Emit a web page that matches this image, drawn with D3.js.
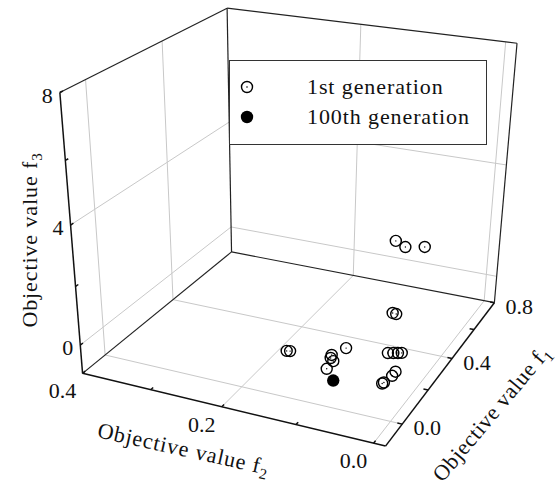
<!DOCTYPE html>
<html>
<head>
<meta charset="utf-8">
<script src="https://cdn.jsdelivr.net/npm/d3@7"></script>
<style>
  body { margin: 0; background: #fff; }
  svg text { font-family: "Liberation Serif", serif; fill: #111; }
</style>
</head>
<body>
<div id="chart"></div>
<script>
// --axis ranges and ticks--
const f1Range = [-0.12, 0.8];
const f2Range = [-0.015, 0.4];
const f3Range = [-1, 8];
const f1Ticks = [0, 0.2, 0.4, 0.6, 0.8];
const f2Ticks = [0, 0.1, 0.2, 0.3, 0.4];
const f3Ticks = [0, 2, 4, 6, 8];
const f1Labels = [0, 0.4, 0.8];
const f2Labels = [0, 0.2, 0.4];
const f3Labels = [0, 4, 8];

// --data: 1st generation--
const gen1F1 = [0.242, 0.215, 0.237, 0.177, 0.175, 0.014, 0.017, 0.044, 0.027, 0.014,
                0.096, 0.043, 0.070, 0.076, 0.081, 0.086, 0.106, 0.081, 0.038, 0.031];
const gen1F2 = [0.044, 0.027, 0.006, 0.033, 0.028, 0.141, 0.137, 0.087, 0.085, 0.079,
                0.078, 0.093, 0.019, 0.013, 0.008, 0.004, 0.014, 0.014, 0.017, 0.018];
const gen1F3 = [3.5, 3.5, 3.5, 1.5, 1.5, 0.5, 0.5, 0.5, 0.5, 0.5,
                0.5, 0.0, 0.8, 0.8, 0.8, 0.8, 0.0, 0.0, 0.0, 0.0];

// --data: 100th generation--
const gen100F1 = [0.006];
const gen100F2 = [0.077];
const gen100F3 = [-0.1];

const svg = d3.select("#chart").append("svg")
  .attr("width", 560)
  .attr("height", 487);

const s1 = d3.scaleLinear().domain(f1Range).range([0, 1]);
const s2 = d3.scaleLinear().domain(f2Range).range([0, 1]);
const s3 = d3.scaleLinear().domain(f3Range).range([0, 1]);

// where the box corners land on screen (normalised a,b,c -> px)
const anchors = [
  [0, 1, 0, 82, 373],
  [0, 0, 0, 386, 446],
  [1, 0, 0, 494, 303],
  [1, 1, 0, 232, 252],
  [0, 1, 1, 60, 93],
  [1, 1, 1, 227, 8],
  [1, 0, 1, 517, 43]
];

// perspective camera fitted to the anchors (DLT, least squares)
function solveCamera(pts) {
  const n = 11;
  const M = d3.range(n).map(() => new Array(n + 1).fill(0));
  pts.forEach(([X, Y, Z, u, v]) => {
    [[[X, Y, Z, 1, 0, 0, 0, 0, -u * X, -u * Y, -u * Z], u],
     [[0, 0, 0, 0, X, Y, Z, 1, -v * X, -v * Y, -v * Z], v]].forEach(([r, b]) => {
      for (let i = 0; i < n; i++) {
        for (let j = 0; j < n; j++) M[i][j] += r[i] * r[j];
        M[i][n] += r[i] * b;
      }
    });
  });
  for (let col = 0; col < n; col++) {
    let piv = col;
    for (let r = col + 1; r < n; r++) if (Math.abs(M[r][col]) > Math.abs(M[piv][col])) piv = r;
    [M[col], M[piv]] = [M[piv], M[col]];
    for (let r = 0; r < n; r++) {
      if (r === col) continue;
      const f = M[r][col] / M[col][col];
      for (let k = col; k <= n; k++) M[r][k] -= f * M[col][k];
    }
  }
  return M.map((row, i) => row[n] / row[i]);
}
const P = solveCamera(anchors);

function project(f1, f2, f3) {
  const a = s1(f1), b = s2(f2), c = s3(f3);
  const w = P[8] * a + P[9] * b + P[10] * c + 1;
  return [(P[0] * a + P[1] * b + P[2] * c + P[3]) / w,
          (P[4] * a + P[5] * b + P[6] * c + P[7]) / w];
}

const line = d3.line();
function seg(g, p, q) {
  g.append("path").attr("d", line([project(...p), project(...q)]));
}

const [x0, x1] = f1Range, [y0, y1] = f2Range, [z0, z1] = f3Range;

// --grid--
const grid = svg.append("g")
  .attr("fill", "none").attr("stroke", "#c8c8c8").attr("stroke-width", 1);
f1Labels.filter(v => v < x1).forEach(v => {
  seg(grid, [v, y0, z0], [v, y1, z0]);      // floor
  seg(grid, [v, y1, z0], [v, y1, z1]);      // left wall
});
f2Labels.filter(v => v < y1).forEach(v => {
  seg(grid, [x0, v, z0], [x1, v, z0]);      // floor
  seg(grid, [x1, v, z0], [x1, v, z1]);      // right wall
});
f3Labels.filter(v => v < z1).forEach(v => {
  seg(grid, [x0, y1, v], [x1, y1, v]);
  seg(grid, [x1, y1, v], [x1, y0, v]);
});

// --box edges--
const box = svg.append("g")
  .attr("fill", "none").attr("stroke", "#222").attr("stroke-width", 1.2);
seg(box, [x0, y1, z0], [x1, y1, z0]);
seg(box, [x1, y1, z0], [x1, y0, z0]);
seg(box, [x1, y1, z0], [x1, y1, z1]);
seg(box, [x1, y0, z0], [x1, y0, z1]);
seg(box, [x0, y1, z1], [x1, y1, z1]);
seg(box, [x1, y1, z1], [x1, y0, z1]);

// --axes--
const axes = svg.append("g")
  .attr("fill", "none").attr("stroke", "#111").attr("stroke-width", 1.5);
seg(axes, [x0, y1, z0], [x0, y0, z0]);
seg(axes, [x0, y0, z0], [x1, y0, z0]);
seg(axes, [x0, y1, z0], [x0, y1, z1]);

const tl1 = 0.015 * (y1 - y0), tl2 = 0.015 * (x1 - x0);
f1Ticks.forEach(v => seg(axes, [v, y0, z0], [v, y0 + tl1, z0]));
f2Ticks.forEach(v => seg(axes, [x0, v, z0], [x0 + tl2, v, z0]));
f3Ticks.forEach(v => seg(axes, [x0, y1, v], [x0 + tl2, y1, v]));

const fmt = d3.format(".1f");
const labels = svg.append("g").attr("font-size", 22);
f1Labels.forEach(v => {
  const [px, py] = project(v, y0, z0);
  labels.append("text").attr("x", px + 25).attr("y", py + 6)
    .attr("text-anchor", "middle").attr("dominant-baseline", "middle").text(fmt(v));
});
f2Labels.forEach(v => {
  const [px, py] = project(x0, v, z0);
  labels.append("text").attr("x", px - 20).attr("y", py + 20)
    .attr("text-anchor", "middle").attr("dominant-baseline", "middle").text(fmt(v));
});
f3Labels.forEach(v => {
  const [px, py] = project(x0, y1, v);
  labels.append("text").attr("x", px - 7).attr("y", py + 5)
    .attr("text-anchor", "end").attr("dominant-baseline", "middle").text(v);
});

// --axis titles--
function title(x, y, angle, sub, spacing) {
  const t = svg.append("text")
    .attr("transform", `translate(${x},${y}) rotate(${angle})`)
    .attr("text-anchor", "middle").attr("font-size", 22)
    .attr("letter-spacing", spacing);
  t.append("tspan").text("Objective value f");
  t.append("tspan").attr("font-size", 15).attr("dy", 5).text(sub);
}
title(37, 240, -90, "3", 0.9);
title(182, 456, 12.5, "2", 0.9);
title(497, 418, -50, "1", 0.6);

// --points--
const pts = svg.append("g");
const gen1 = gen1F1.map((v, i) => project(v, gen1F2[i], gen1F3[i]));
const gen100 = gen100F1.map((v, i) => project(v, gen100F2[i], gen100F3[i]));

pts.selectAll(".g1").data(gen1).join("circle")
  .attr("class", "g1")
  .attr("cx", d => d[0]).attr("cy", d => d[1]).attr("r", 5.5)
  .attr("fill", "none").attr("stroke", "#000").attr("stroke-width", 1.4);
pts.selectAll(".g1dot").data(gen1).join("circle")
  .attr("class", "g1dot")
  .attr("cx", d => d[0]).attr("cy", d => d[1]).attr("r", 0.7).attr("fill", "#000");
pts.selectAll(".g100").data(gen100).join("circle")
  .attr("class", "g100")
  .attr("cx", d => d[0]).attr("cy", d => d[1]).attr("r", 6.2).attr("fill", "#000");

// --legend--
const legend = svg.append("g");
legend.append("rect").attr("x", 229.5).attr("y", 60.5).attr("width", 257).attr("height", 84)
  .attr("fill", "#fff").attr("stroke", "#333").attr("stroke-width", 1);
legend.append("circle").attr("cx", 247).attr("cy", 87).attr("r", 5.5)
  .attr("fill", "none").attr("stroke", "#000").attr("stroke-width", 1.4);
legend.append("circle").attr("cx", 247).attr("cy", 87).attr("r", 0.8).attr("fill", "#000");
legend.append("circle").attr("cx", 247).attr("cy", 117).attr("r", 6.2).attr("fill", "#000");
legend.append("text").attr("x", 307).attr("y", 94).attr("font-size", 22)
  .attr("letter-spacing", 0.9).text("1st generation");
legend.append("text").attr("x", 307).attr("y", 124).attr("font-size", 22)
  .attr("letter-spacing", 0.9).text("100th generation");
</script>
</body>
</html>
